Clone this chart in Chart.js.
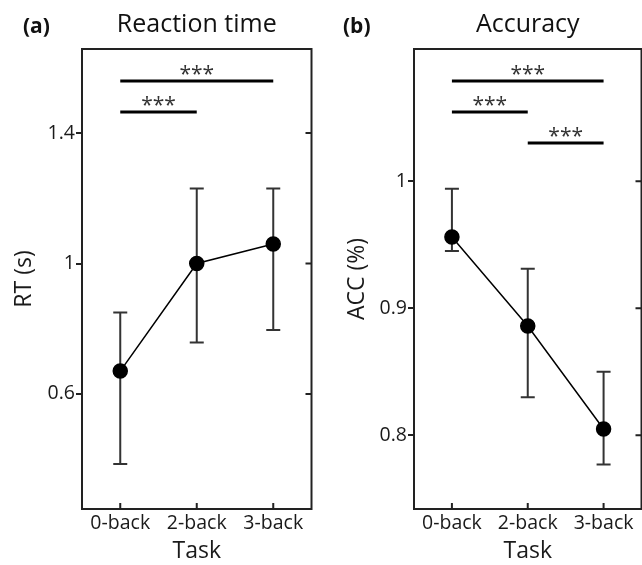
<!DOCTYPE html>
<html>
<head>
<meta charset="utf-8">
<script src="https://cdn.jsdelivr.net/npm/chart.js@4.4.0/dist/chart.umd.min.js"></script>
<style>
  html, body { margin: 0; padding: 0; background: #fff; overflow: hidden; }
  #wrap { position: relative; width: 642px; height: 565px; overflow: hidden; }
  canvas { position: absolute; top: 0; }
  #rt-chart { left: 0; }
  #acc-chart { left: 320px; }
</style>
</head>
<body>
<div id="wrap">
  <canvas id="rt-chart" width="320" height="565"></canvas>
  <canvas id="acc-chart" width="330" height="565"></canvas>
</div>
<script>
var tasks = ['0-back', '2-back', '3-back'];

var rtMean  = [0.67, 1.00, 1.06];
var rtUpper = [0.85, 1.23, 1.23];
var rtLower = [0.385, 0.758, 0.796];
var rtTicks = [0.6, 1, 1.4];

var accMean  = [0.956, 0.886, 0.805];
var accUpper = [0.994, 0.931, 0.850];
var accLower = [0.945, 0.830, 0.777];
var accTicks = [0.8, 0.9, 1];

// significance brackets: [from task, to task, label]
var rtSig  = [[0, 2, '***'], [0, 1, '***']];
var accSig = [[0, 2, '***'], [0, 1, '***'], [1, 2, '***']];

Chart.defaults.font.family = '"Open Sans", sans-serif';
Chart.defaults.color = '#1a1a1a';

// error bars, box frame, inner ticks, significance bars and panel titles
function makeDecor(cfg) {
    return {
        id: 'decor',
        beforeDatasetsDraw: function (chart) {
            var ctx = chart.ctx, x = chart.scales.x, y = chart.scales.y;
            ctx.save();
            ctx.strokeStyle = '#333';
            ctx.lineWidth = 2;
            for (var i = 0; i < tasks.length; i++) {
                var px = x.getPixelForValue(i);
                var top = y.getPixelForValue(cfg.upper[i]);
                var bot = y.getPixelForValue(cfg.lower[i]);
                ctx.beginPath();
                ctx.moveTo(px, top); ctx.lineTo(px, bot);
                ctx.moveTo(px - 7, top); ctx.lineTo(px + 7, top);
                ctx.moveTo(px - 7, bot); ctx.lineTo(px + 7, bot);
                ctx.stroke();
            }
            ctx.restore();
        },
        afterDraw: function (chart) {
            var ctx = chart.ctx, a = chart.chartArea, x = chart.scales.x, y = chart.scales.y;
            ctx.save();
            ctx.strokeStyle = '#222';
            ctx.lineWidth = 2;
            ctx.strokeRect(a.left, a.top, a.right - a.left, a.bottom - a.top);

            ctx.beginPath();
            y.ticks.forEach(function (t) {
                var py = y.getPixelForValue(t.value);
                ctx.moveTo(a.right, py); ctx.lineTo(a.right - 6, py);
            });
            for (var i = 0; i < tasks.length; i++) {
                var px = x.getPixelForValue(i);
                ctx.moveTo(px, a.bottom); ctx.lineTo(px, a.bottom - 6);
            }
            ctx.stroke();

            // significance
            ctx.strokeStyle = '#000';
            ctx.lineWidth = 3;
            ctx.fillStyle = '#333';
            ctx.font = '21px "Open Sans"';
            ctx.textAlign = 'center';
            ctx.textBaseline = 'alphabetic';
            cfg.sig.forEach(function (s, k) {
                var x1 = x.getPixelForValue(s[0]);
                var x2 = x.getPixelForValue(s[1]);
                var py = a.top + 32 + 31 * k;
                ctx.beginPath();
                ctx.moveTo(x1, py); ctx.lineTo(x2, py);
                ctx.stroke();
                ctx.fillText(s[2], (x1 + x2) / 2, py);
            });

            ctx.fillStyle = '#111';
            ctx.font = 'bold 21px "Open Sans"';
            ctx.textAlign = 'left';
            ctx.fillText(cfg.label, cfg.labelX, 33);
            ctx.font = '25px "Open Sans"';
            ctx.textAlign = 'center';
            ctx.fillText(cfg.title, (a.left + a.right) / 2, 32);
            ctx.restore();
        }
    };
}

function makeChart(id, mean, ticks, axisTitle, axisWidth, titlePad, min, max, padRight, decor) {
    var ctx = document.getElementById(id).getContext('2d');
    return new Chart(ctx, {
        type: 'line',
        data: {
            labels: tasks,
            datasets: [{
                data: mean,
                borderColor: '#000',
                borderWidth: 1.5,
                backgroundColor: '#000',
                pointBackgroundColor: '#000',
                pointBorderColor: '#000',
                pointRadius: 7,
                tension: 0
            }]
        },
        options: {
            responsive: false,
            animation: false,
            layout: { padding: { top: 49, right: padRight, left: 0, bottom: 0 } },
            plugins: { legend: { display: false }, tooltip: { enabled: false } },
            scales: {
                x: {
                    type: 'category',
                    offset: true,
                    grid: { display: false, drawTicks: false },
                    border: { display: false },
                    ticks: { font: { size: 19.5 }, padding: 3, maxRotation: 0, autoSkip: false },
                    title: { display: true, text: 'Task', font: { size: 23 }, padding: { top: 0, bottom: 0 } },
                    afterFit: function (s) { s.height = 56; }
                },
                y: {
                    min: min,
                    max: max,
                    grid: { display: true, drawOnChartArea: false, drawTicks: true, tickLength: 6, color: '#222', lineWidth: 2 },
                    border: { display: false },
                    ticks: { font: { size: 19.5 }, padding: 1,
                             callback: function (v) { return String(v); } },
                    afterBuildTicks: function (s) { s.ticks = ticks.map(function (v) { return { value: v }; }); },
                    title: { display: true, text: axisTitle, font: { size: 23 }, padding: { top: titlePad, bottom: 0 } },
                    afterFit: function (s) { s.width = axisWidth; }
                }
            }
        },
        plugins: [decor]
    });
}

makeChart('rt-chart', rtMean, rtTicks, 'RT (s)', 82, 11, 0.247, 1.658, 4,
    makeDecor({ label: '(a)', labelX: 23, title: 'Reaction time', upper: rtUpper, lower: rtLower, sig: rtSig }));

makeChart('acc-chart', accMean, accTicks, 'ACC (%)', 94, 24, 0.742, 1.104, 2,
    makeDecor({ label: '(b)', labelX: 23, title: 'Accuracy', upper: accUpper, lower: accLower, sig: accSig }));
</script>
</body>
</html>
